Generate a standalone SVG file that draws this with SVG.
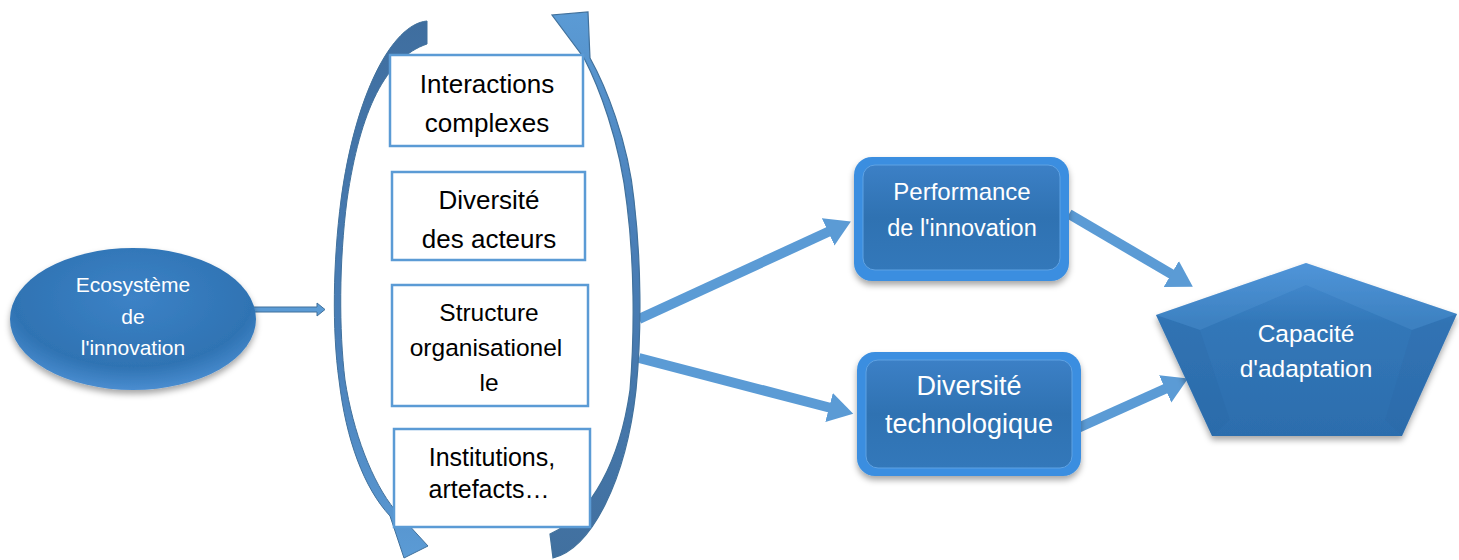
<svg xmlns="http://www.w3.org/2000/svg" width="1459" height="560" viewBox="0 0 1459 560">
<defs>
<style>
.lbl{font-family:"Liberation Sans",Arial,sans-serif;fill:#000;text-anchor:middle}
.wl{font-family:"Liberation Sans",Arial,sans-serif;fill:#fff;text-anchor:middle}
.box{fill:#fff;stroke:#5B9BD5;stroke-width:2.5}
.conn{stroke:#5B9BD5;stroke-width:10;fill:none}
</style>
<linearGradient id="gl" x1="0" y1="0" x2="0" y2="1">
<stop offset="0" stop-color="#3F6E9F"/><stop offset="0.6" stop-color="#4A7FB8"/><stop offset="1" stop-color="#5B9BD5"/>
</linearGradient>
<linearGradient id="gr" x1="0" y1="0" x2="0" y2="1">
<stop offset="0" stop-color="#5B9BD5"/><stop offset="0.4" stop-color="#4A7FB8"/><stop offset="1" stop-color="#41709F"/>
</linearGradient>
<radialGradient id="ge" cx="0.5" cy="0.35" r="0.65">
<stop offset="0" stop-color="#3C82C6"/><stop offset="0.75" stop-color="#2F73B3"/><stop offset="1" stop-color="#4A8DD0"/>
</radialGradient>
<linearGradient id="gb" x1="0" y1="0" x2="0" y2="1">
<stop offset="0" stop-color="#3C80C6"/><stop offset="0.5" stop-color="#2F72B2"/><stop offset="1" stop-color="#3378BA"/>
</linearGradient>
<linearGradient id="gp" x1="0" y1="0" x2="0" y2="1">
<stop offset="0" stop-color="#4A90D6"/><stop offset="0.35" stop-color="#3277B8"/><stop offset="1" stop-color="#2C6DAD"/>
</linearGradient>
<filter id="sh" x="-20%" y="-20%" width="140%" height="150%">
<feDropShadow dx="0" dy="4" stdDeviation="3" flood-color="#000" flood-opacity="0.35"/>
</filter>
<marker id="ah" markerUnits="userSpaceOnUse" markerWidth="26" markerHeight="32" refX="2" refY="16" orient="auto">
<path d="M0,1 L25,16 L0,31 z" fill="#5B9BD5"/>
</marker>
</defs>

<g id="connectors">
<path d="M248,307 L317,307 L317,303 L325,309.5 L317,316 L317,312 L248,312 z" fill="#5B9BD5" stroke="#41719C" stroke-width="1"/>
<line class="conn" x1="639" y1="319" x2="830" y2="231" marker-end="url(#ah)"/>
<line class="conn" x1="639" y1="358" x2="831" y2="408" marker-end="url(#ah)"/>
<line class="conn" x1="1069" y1="214" x2="1173" y2="275" marker-end="url(#ah)"/>
<line class="conn" x1="1069" y1="432" x2="1167" y2="388" marker-end="url(#ah)"/>
</g>

<g id="arc-left">
<path d="M427,21 C392,24 355,95 341,200 C333,262 332,330 339,380 C346,440 364,488 390,516 L404,558 L428,546 L395,510 C372,482 353,432 345,380 C339,330 339,262 347,200 C360,110 386,58 427,44 Z" fill="url(#gl)" stroke="#41719C" stroke-width="1"/>
</g>
<g id="arc-right">
<path d="M553,558 C592,548 626,480 636,390 C642,330 641,260 634,200 C628,140 605,85 590,58 L588,12 L552,15 L584,58 C598,85 620,140 627,205 C634,260 635,330 630,390 C620,460 592,515 550,534 Z" fill="url(#gr)" stroke="#41719C" stroke-width="1.2"/>
</g>

<g id="n-interactions">
<rect class="box" x="390" y="55" width="193" height="91"/>
<text class="lbl" font-size="26" x="487" y="93">Interactions</text>
<text class="lbl" font-size="26" x="487" y="132">complexes</text>
</g>
<g id="n-diversite-acteurs">
<rect class="box" x="392" y="172" width="193" height="88"/>
<text class="lbl" font-size="26" x="489" y="209">Diversité</text>
<text class="lbl" font-size="26" x="489" y="248">des acteurs</text>
</g>
<g id="n-structure">
<rect class="box" x="392" y="285" width="196" height="121"/>
<text class="lbl" font-size="24.5" x="489" y="321">Structure</text>
<text class="lbl" font-size="24.5" x="486" y="356">organisationel</text>
<text class="lbl" font-size="24.5" x="489" y="391">le</text>
</g>
<g id="n-institutions">
<rect class="box" x="394" y="429" width="196" height="98"/>
<text class="lbl" font-size="25" x="492" y="466">Institutions,</text>
<text class="lbl" font-size="25" x="489" y="498">artefacts…</text>
</g>

<g id="n-ecosysteme">
<ellipse cx="133" cy="319" rx="123" ry="71" fill="url(#ge)" filter="url(#sh)"/>
<text class="wl" font-size="21" x="133" y="292">Ecosystème</text>
<text class="wl" font-size="21" x="133" y="324">de</text>
<text class="wl" font-size="21" x="133" y="355">l'innovation</text>
</g>

<g id="n-performance">
<rect x="854" y="157" width="215" height="124" rx="18" fill="#3A8EE0" filter="url(#sh)"/>
<rect x="863" y="165" width="197" height="105" rx="12" fill="url(#gb)" stroke="#5FA2E3" stroke-width="1"/>
<text class="wl" font-size="24" x="962" y="200">Performance</text>
<text class="wl" font-size="23.5" x="962" y="236">de l'innovation</text>
</g>

<g id="n-diversite-techno">
<rect x="857" y="352" width="224" height="124" rx="18" fill="#3A8EE0" filter="url(#sh)"/>
<rect x="866" y="360" width="206" height="108" rx="12" fill="url(#gb)" stroke="#5FA2E3" stroke-width="1"/>
<text class="wl" font-size="27" x="969" y="395">Diversité</text>
<text class="wl" font-size="27" x="969" y="433">technologique</text>
</g>

<g id="n-capacite">
<polygon points="1306,263 1457,314 1402,436 1212,436 1156,315" fill="url(#gp)" filter="url(#sh)"/>
<polygon points="1156,315 1200,330 1230,420 1212,436" fill="#2A65A0" opacity="0.2"/>
<polygon points="1457,314 1412,330 1385,420 1402,436" fill="#2A65A0" opacity="0.18"/>
<polygon points="1306,263 1457,314 1412,330 1306,285 1200,330 1156,315" fill="#6AAAE8" opacity="0.2"/>
<text class="wl" font-size="24.5" x="1306" y="342">Capacité</text>
<text class="wl" font-size="24.5" x="1306" y="377">d'adaptation</text>
</g>
</svg>
